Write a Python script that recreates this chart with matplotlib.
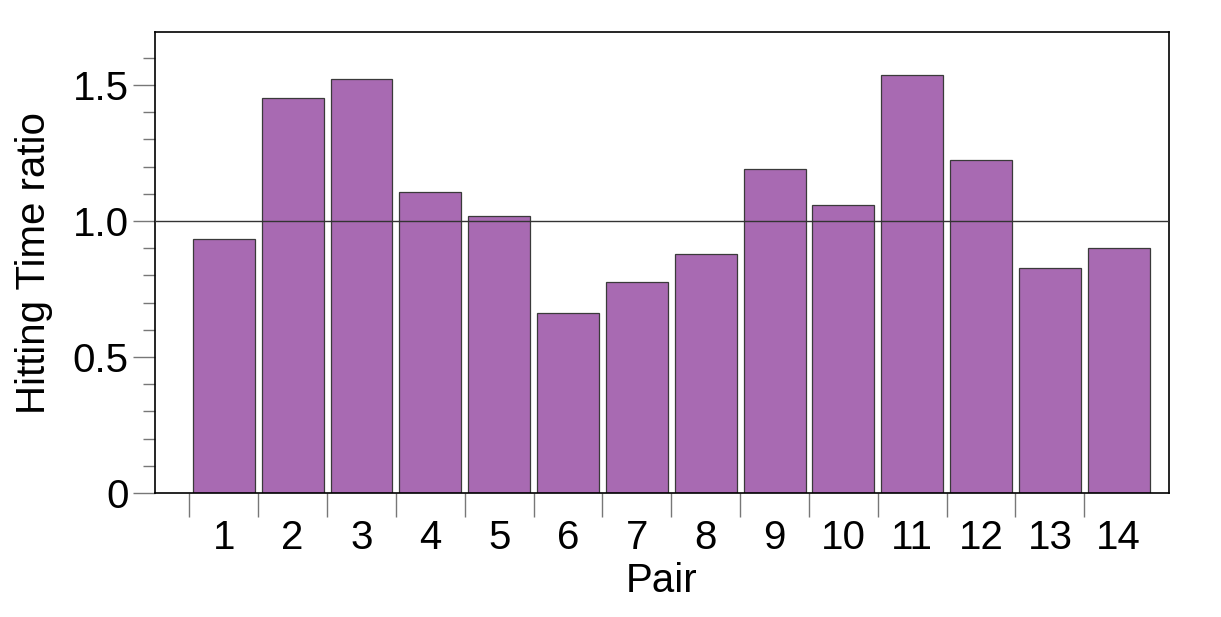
import numpy as np
import matplotlib.pyplot as plt
from matplotlib.ticker import MultipleLocator

plt.rcParams['font.family'] = ['Liberation Sans', 'DejaVu Sans']

pairs = ['1', '2', '3', '4', '5', '6', '7', '8', '9', '10', '11', '12', '13', '14']
ratio = [0.934, 1.452, 1.522, 1.107, 1.018, 0.662, 0.776, 0.879,
         1.191, 1.059, 1.537, 1.224, 0.827, 0.901]

fig = plt.figure(figsize=(12.21, 6.17), dpi=100)
ax = fig.add_axes([155 / 1221, 1 - 493 / 617, (1169 - 155) / 1221, (493 - 32) / 617])

x = np.arange(1, len(pairs) + 1)
ax.bar(x, ratio, width=0.9, color='#a86ab2', edgecolor='#3a3a3a', linewidth=0.9, zorder=2)
ax.axhline(1.0, color='#333333', linewidth=1, zorder=3)

ax.set_xlim(0, 14.73)
ax.set_ylim(0, 1.695)

# x: tick marks at group boundaries, labels at bar centres
ax.set_xticks(x - 0.5)
ax.set_xticklabels([])
ax.set_xticks(x, minor=True)
ax.set_xticklabels(pairs, minor=True)
ax.tick_params(axis='x', which='major', direction='out', length=17, width=1, color='#777777')
ax.tick_params(axis='x', which='minor', length=0, pad=19, labelsize=29)

ax.set_yticks([0, 0.5, 1.0, 1.5])
ax.set_yticklabels(['0', '0.5', '1.0', '1.5'])
ax.yaxis.set_minor_locator(MultipleLocator(0.1))
ax.tick_params(axis='y', which='major', direction='out', length=16, width=1, color='#777777', labelsize=29, pad=3)
ax.tick_params(axis='y', which='minor', direction='out', length=9, width=1, color='#777777')

for s in ax.spines.values():
    s.set_linewidth(1.2)
    s.set_color('black')

ax.set_xlabel('Pair', fontsize=29, labelpad=3)
ax.set_ylabel('Hitting Time ratio', fontsize=29, labelpad=14)

fig.savefig('out.png', dpi=100)
